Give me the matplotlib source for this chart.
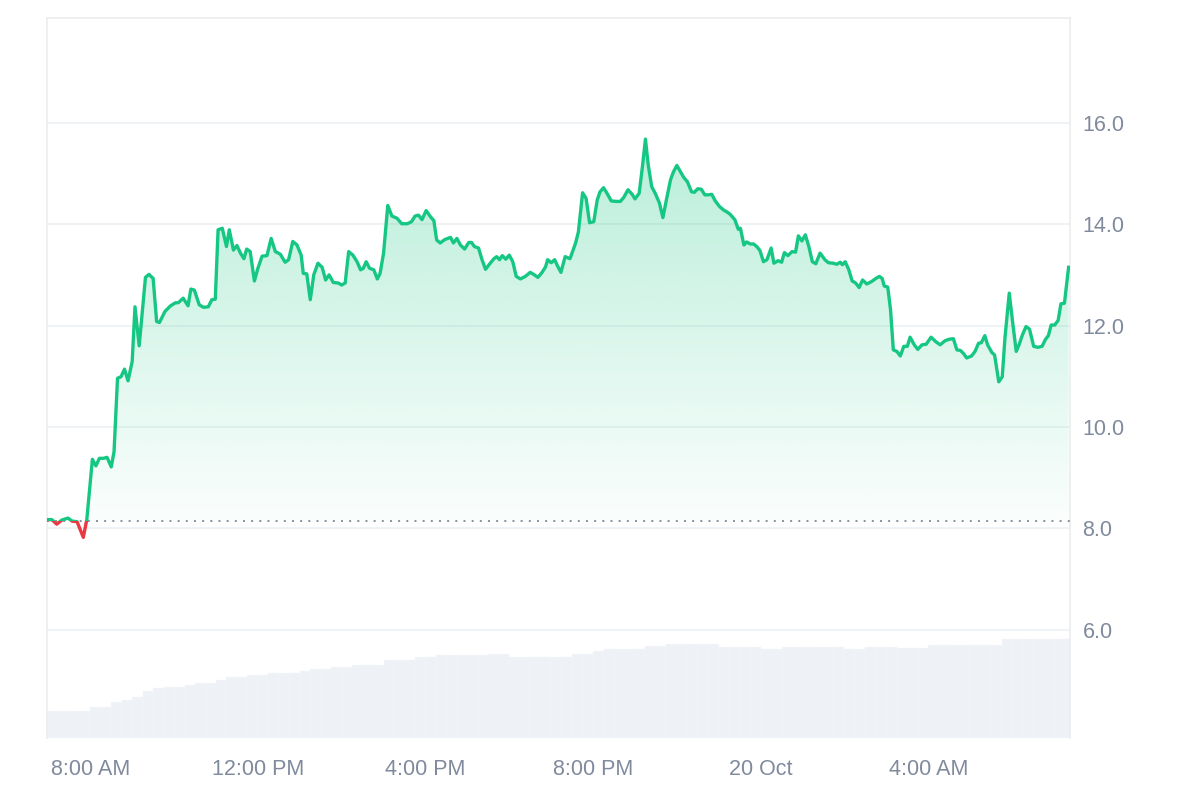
import matplotlib
matplotlib.use('Agg')
import matplotlib.pyplot as plt
import numpy as np
from matplotlib.patches import Rectangle
from matplotlib.path import Path

plt.rcParams['font.family'] = ['Liberation Sans', 'DejaVu Sans']

# minutes after 07:00 AM, 19 Oct
minutes = [0, 5, 12, 19, 28, 34, 41, 50, 55, 63, 68, 73, 79, 84, 90, 94, 99, 104, 109, 114,
           120, 124, 130, 139, 144, 150, 155, 159, 167, 175, 182, 186, 193, 200, 204, 209, 216, 222, 229, 234,
           239, 243, 249, 255, 259, 265, 270, 275, 280, 284, 289, 295, 300, 306, 313, 319, 325, 332, 339, 344,
           350, 356, 362, 365, 370, 375, 380, 386, 392, 397, 402, 408, 415, 420, 425, 430, 436, 442, 447, 451,
           455, 460, 466, 471, 475, 480, 486, 492, 499, 506, 514, 520, 525, 530, 535, 541, 547, 552, 556, 561,
           568, 576, 580, 585, 590, 596, 602, 606, 610, 616, 621, 626, 631, 638, 642, 646, 650, 655, 660, 665,
           670, 676, 683, 690, 696, 701, 707, 712, 715, 720, 725, 729, 734, 740, 747, 755, 759, 765, 770, 775,
           781, 786, 790, 795, 800, 806, 813, 819, 824, 830, 836, 840, 846, 851, 855, 859, 864, 869, 875, 880,
           885, 891, 895, 900, 905, 910, 915, 921, 925, 930, 935, 940, 945, 950, 955, 961, 967, 972, 976, 983,
           988, 991, 996, 1000, 1005, 1010, 1015, 1019, 1024, 1029, 1035, 1039, 1045, 1050, 1054, 1059, 1065, 1070, 1074, 1079,
           1084, 1089, 1094, 1099, 1105, 1112, 1117, 1124, 1129, 1134, 1137, 1141, 1146, 1151, 1156, 1161, 1166, 1172, 1179, 1185,
           1190, 1194, 1197, 1202, 1206, 1210, 1215, 1220, 1225, 1230, 1234, 1240, 1245, 1251, 1257, 1264, 1271, 1277, 1284, 1290,
           1296, 1301, 1306, 1311, 1315, 1322, 1327, 1332, 1336, 1341, 1345, 1351, 1355, 1361, 1366, 1370, 1376, 1381, 1386, 1390,
           1395, 1400, 1405, 1411, 1417, 1423, 1428, 1432, 1436, 1441, 1446, 1450, 1455, 1461]

price = [8.17, 8.17, 8.08, 8.16, 8.20, 8.14, 8.13, 7.82, 8.17, 9.36, 9.23, 9.38, 9.38, 9.40, 9.21, 9.51, 10.96, 10.99, 11.14, 10.91,
         11.29, 12.37, 11.60, 12.95, 13.01, 12.93, 12.08, 12.06, 12.28, 12.39, 12.45, 12.45, 12.54, 12.39, 12.72, 12.70, 12.41, 12.36, 12.37, 12.51,
         12.52, 13.89, 13.92, 13.56, 13.89, 13.49, 13.58, 13.43, 13.32, 13.51, 13.46, 12.88, 13.13, 13.37, 13.38, 13.72, 13.46, 13.41, 13.25, 13.30,
         13.66, 13.59, 13.39, 13.03, 13.02, 12.51, 13.00, 13.23, 13.15, 12.90, 13.00, 12.85, 12.84, 12.80, 12.84, 13.46, 13.39, 13.26, 13.10, 13.13,
         13.26, 13.13, 13.10, 12.92, 13.03, 13.43, 14.37, 14.16, 14.12, 14.01, 14.01, 14.05, 14.16, 14.18, 14.09, 14.27, 14.15, 14.07, 13.69, 13.63,
         13.70, 13.74, 13.63, 13.72, 13.59, 13.51, 13.64, 13.64, 13.56, 13.53, 13.30, 13.11, 13.20, 13.32, 13.36, 13.30, 13.38, 13.31, 13.39, 13.26,
         12.97, 12.92, 12.97, 13.05, 13.00, 12.95, 13.05, 13.16, 13.30, 13.24, 13.30, 13.18, 13.05, 13.36, 13.32, 13.63, 13.85, 14.62, 14.51, 14.03,
         14.05, 14.48, 14.64, 14.72, 14.61, 14.46, 14.45, 14.45, 14.53, 14.68, 14.59, 14.50, 14.61, 15.17, 15.68, 15.17, 14.74, 14.61, 14.42, 14.13,
         14.48, 14.88, 15.03, 15.16, 15.04, 14.92, 14.84, 14.64, 14.63, 14.70, 14.69, 14.58, 14.58, 14.59, 14.46, 14.35, 14.28, 14.24, 14.20, 14.09,
         13.90, 13.92, 13.59, 13.65, 13.61, 13.61, 13.55, 13.48, 13.26, 13.30, 13.53, 13.23, 13.28, 13.25, 13.44, 13.38, 13.46, 13.45, 13.77, 13.67,
         13.79, 13.56, 13.26, 13.22, 13.43, 13.30, 13.24, 13.23, 13.21, 13.25, 13.20, 13.26, 13.11, 12.88, 12.84, 12.75, 12.90, 12.82, 12.87, 12.93,
         12.97, 12.93, 12.78, 12.76, 12.31, 11.52, 11.49, 11.40, 11.59, 11.59, 11.77, 11.62, 11.53, 11.62, 11.63, 11.77, 11.68, 11.62, 11.70, 11.73,
         11.74, 11.52, 11.51, 11.44, 11.36, 11.40, 11.49, 11.65, 11.66, 11.80, 11.62, 11.47, 11.42, 10.89, 10.99, 11.78, 12.64, 12.05, 11.49, 11.62,
         11.82, 11.98, 11.93, 11.59, 11.57, 11.59, 11.73, 11.80, 12.01, 12.01, 12.10, 12.43, 12.44, 13.15]

baseline_price = 8.15

# volume, 15-minute buckets (millions)
volume = [2.75, 2.75, 2.75, 2.75, 3.15, 3.15, 3.58, 3.82, 4.08, 4.75,
          4.98, 5.15, 5.15, 5.35, 5.52, 5.52, 5.85, 6.08, 6.08, 6.35,
          6.35, 6.52, 6.52, 6.52, 6.68, 6.92, 6.92, 7.08, 7.08, 7.35,
          7.35, 7.35, 7.85, 7.85, 7.85, 8.08, 8.08, 8.32, 8.32, 8.32,
          8.32, 8.32, 8.42, 8.42, 8.15, 8.15, 8.15, 8.15, 8.15, 8.15,
          8.42, 8.42, 8.68, 8.88, 8.88, 8.88, 8.88, 9.25, 9.25, 9.42,
          9.42, 9.42, 9.42, 9.42, 9.15, 9.15, 9.15, 9.15, 8.95, 8.95,
          9.08, 9.08, 9.08, 9.15, 9.15, 9.15, 8.92, 8.92, 9.08, 9.08,
          9.08, 8.98, 8.98, 8.98, 9.32, 9.32, 9.32, 9.32, 9.32, 9.32,
          9.32, 9.88, 9.88, 9.88, 9.88, 9.88, 9.88, 9.88]
volume_bucket_minutes = 15

xtick_minutes = [60, 300, 540, 780, 1020, 1260]
xtick_labels = ['8:00 AM', '12:00 PM', '4:00 PM', '8:00 PM', '20 Oct', '4:00 AM']
ytick_values = [6, 8, 10, 12, 14, 16]
ytick_labels = ['6.0', '8.0', '10.0', '12.0', '14.0', '16.0']

GREEN = '#16c784'
RED = '#ea3943'
LABEL = '#808a9d'
GRID = '#eff2f5'

t = np.array(minutes, dtype=float)
p = np.array(price)
XMIN, XMAX = -2, 1463
YMIN, YMAX = 3.86, 18.07

fig = plt.figure(figsize=(12, 8), dpi=100)
pos = [47 / 1200, 62 / 800, 1023 / 1200, 720 / 800]

# volume axes (behind)
axv = fig.add_axes(pos, zorder=0)
vt = np.arange(len(volume)) * volume_bucket_minutes
axv.bar(vt, volume, width=volume_bucket_minutes, align='edge', color='#eef1f6',
        edgecolor='#f7f8fa', linewidth=0.3)
axv.set_xlim(XMIN, XMAX)
axv.set_ylim(0, 72)
axv.axis('off')

# price axes
ax = fig.add_axes(pos, zorder=1)
ax.patch.set_alpha(0)
ax.set_xlim(XMIN, XMAX)
ax.set_ylim(YMIN, YMAX)

# gradient fill above baseline
poly = ax.fill_between(t, p, baseline_price, where=p >= baseline_price,
                       interpolate=True, color='none', linewidth=0)
clip = Path.make_compound_path(*poly.get_paths())
n = 256
grad = np.zeros((n, 1, 4))
grad[:, 0, 0] = 22 / 255
grad[:, 0, 1] = 199 / 255
grad[:, 0, 2] = 132 / 255
grad[:, 0, 3] = np.linspace(0.02, 0.30, n)
im = ax.imshow(grad, extent=[XMIN, XMAX, baseline_price, p.max()], origin='lower',
               aspect='auto', zorder=2, interpolation='bilinear')
im.set_clip_path(clip, transform=ax.transData)

# line split at baseline
l1, = ax.plot(t, p, color=GREEN, lw=2.4, zorder=4, solid_joinstyle='round')
l2, = ax.plot(t, p, color=RED, lw=2.4, zorder=4, solid_joinstyle='round')
r_up = Rectangle((XMIN, baseline_price), XMAX - XMIN, YMAX - baseline_price, transform=ax.transData)
r_dn = Rectangle((XMIN, YMIN), XMAX - XMIN, baseline_price - YMIN, transform=ax.transData)
l1.set_clip_path(r_up)
l2.set_clip_path(r_dn)

ax.axhline(baseline_price, color='#8a8f99', lw=1.4, linestyle=(0, (1, 3.2)), zorder=3)

ax.set_yticks(ytick_values)
ax.set_yticklabels(ytick_labels)
ax.yaxis.tick_right()
ax.set_xticks(xtick_minutes)
ax.set_xticklabels(xtick_labels)
ax.tick_params(axis='y', length=0, pad=9, labelsize=15.5, labelcolor=LABEL)
ax.tick_params(axis='x', length=0, pad=15, labelsize=15.5, labelcolor=LABEL)
ax.grid(axis='y', color=GRID, lw=1.3, zorder=1)
ax.set_axisbelow(True)
for s in ['left', 'right', 'top']:
    ax.spines[s].set_color('#eaecef')
    ax.spines[s].set_linewidth(1.2)
ax.spines['bottom'].set_visible(False)

fig.savefig('out.png', dpi=100)
